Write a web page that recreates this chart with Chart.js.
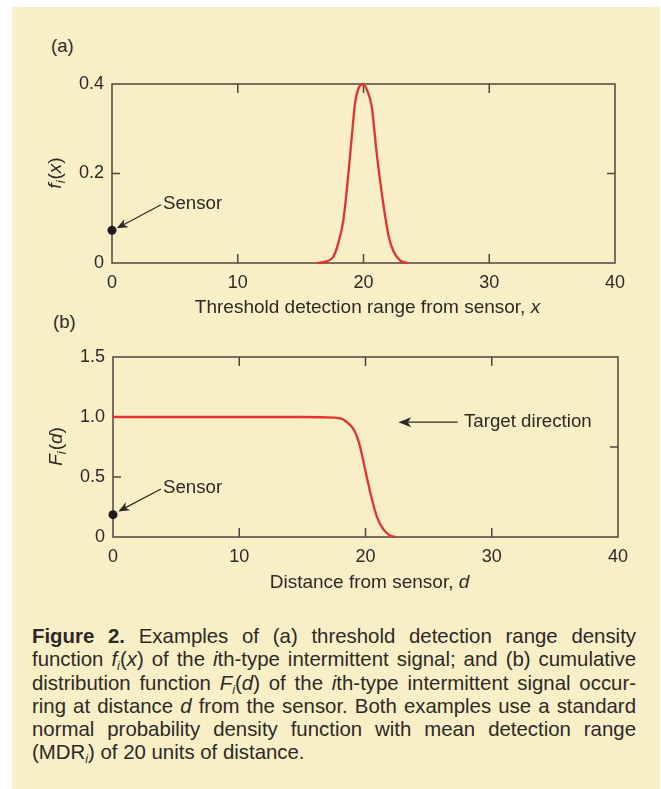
<!DOCTYPE html>
<html>
<head>
<meta charset="utf-8">
<script src="https://cdn.jsdelivr.net/npm/chart.js@4.4.0/dist/chart.umd.min.js"></script>
<style>
  html, body { margin: 0; padding: 0; background: #ffffff; }
  #page { position: relative; width: 661px; height: 789px; overflow: hidden; }
  #panel { position: absolute; left: 12px; top: 7px; width: 648px; height: 782px; background: #f8efc7; }
  canvas { position: absolute; left: 0; }
  #chartA { top: 0; }
  #chartB { top: 320px; }
  .tag { position: absolute; font: 18.5px "Liberation Sans", Arial, sans-serif; color: #2e2925; line-height: 20px; }
  #caption { position: absolute; left: 32px; top: 625px; width: 604px;
    font: 20.4px "Liberation Sans", Arial, sans-serif; line-height: 23.3px; color: #2e2925; }
  #caption div { text-align: justify; text-align-last: justify; white-space: nowrap; }
  #caption div.last { text-align-last: left; }
  #caption sub { font-size: 0.62em; line-height: 0; vertical-align: -0.3em; }
</style>
</head>
<body>
<div id="page">
  <div id="panel"></div>
  <div class="tag" style="left:51px; top:36px;">(a)</div>
  <div class="tag" style="left:53px; top:312px;">(b)</div>
  <canvas id="chartA" width="661" height="320"></canvas>
  <canvas id="chartB" width="661" height="275"></canvas>
  <div id="caption">
    <div><b>Figure 2.</b> Examples of (a) threshold detection range density</div>
    <div>function <i>f</i><sub><i>i</i></sub>(<i>x</i>) of the <i>i</i>th-type intermittent signal; and (b) cumulative</div>
    <div>distribution function <i>F</i><sub><i>i</i></sub>(<i>d</i>) of the <i>i</i>th-type intermittent signal occur-</div>
    <div>ring at distance <i>d</i> from the sensor. Both examples use a standard</div>
    <div>normal probability density function with mean detection range</div>
    <div class="last">(MDR<sub><i>i</i></sub>) of 20 units of distance.</div>
  </div>
</div>
<script>
// tick values / labels
const xTickValues = [0, 10, 20, 30, 40];
const yTickValuesA = [0, 0.2, 0.4];
const yTickLabelsA = ['0', '0.2', '0.4'];
const yTickValuesB = [0, 0.5, 1.0, 1.5];
const yTickLabelsB = ['0', '0.5', '1.0', '1.5'];

// inward tick marks on the frame
const innerXTicks = [10, 20, 30];
const innerLeftA = [0.2];
const innerRightA = [0.2];
const innerLeftB = [0.5, 1.0];
const innerRightB = [0.75];

// (a) density f_i(x)
const densityX = [16.3, 17.0, 17.6, 18.0, 18.4, 18.8, 19.06, 19.32, 19.6, 19.95, 20.3, 20.65, 21.05, 21.57, 22.0, 22.4, 22.9, 23.5];
const densityY = [0, 0.003, 0.014, 0.045, 0.096, 0.2, 0.28, 0.355, 0.39, 0.399, 0.385, 0.35, 0.245, 0.133, 0.06, 0.025, 0.006, 0];

// (b) F_i(d)
const cdfX = [0, 5, 10, 15, 17.5, 18.3, 19.1, 19.5, 20.1, 20.45, 20.9, 21.4, 21.9, 22.4];
const cdfY = [1, 1, 1, 1, 0.995, 0.975, 0.89, 0.78, 0.50, 0.34, 0.17, 0.065, 0.015, 0];

// sensor points and annotation anchors (data units)
const sensorA = [0, 0.073];
const sensorLabelA = [4.05, 0.1325];
const sensorArrowA = [3.9, 0.13, 0.37, 0.0775];
const sensorB = [0, 0.186];
const sensorLabelB = [3.96, 0.408];
const sensorArrowB = [3.8, 0.40, 0.42, 0.213];
const targetArrowB = [27.3, 0.957, 22.6, 0.957];
const targetLabelB = [27.8, 0.957];

const FONT = '"Liberation Sans", Arial, Helvetica, sans-serif';
const INK = '#2e2925';
const AXIS = '#4e463f';
const RED = '#e5322d';

function toPoints(xs, ys) {
    return xs.map((x, i) => ({ x: x, y: ys[i] }));
}

function drawRich(ctx, parts, cx, cy, size) {
    // parts: [text, style]  n = normal, i = italic, s = italic subscript
    const fontFor = (p) => {
        if (p[1] === 's') return 'italic ' + (size * 0.68) + 'px ' + FONT;
        if (p[1] === 'i') return 'italic ' + size + 'px ' + FONT;
        return size + 'px ' + FONT;
    };
    let w = 0;
    parts.forEach(p => { ctx.font = fontFor(p); w += ctx.measureText(p[0]).width; });
    let x = cx - w / 2;
    ctx.textAlign = 'left';
    ctx.textBaseline = 'middle';
    parts.forEach(p => {
        ctx.font = fontFor(p);
        const dy = p[1] === 's' ? size * 0.3 : 0;
        ctx.fillText(p[0], x, cy + dy);
        x += ctx.measureText(p[0]).width + (p[1] === 's' ? 1 : 0);
    });
}

function drawArrow(ctx, x1, y1, x2, y2, len, half) {
    const ang = Math.atan2(y2 - y1, x2 - x1);
    ctx.beginPath();
    ctx.moveTo(x1, y1);
    ctx.lineTo(x2 - Math.cos(ang) * len * 0.7, y2 - Math.sin(ang) * len * 0.7);
    ctx.stroke();
    ctx.save();
    ctx.translate(x2, y2);
    ctx.rotate(ang);
    ctx.beginPath();
    ctx.moveTo(0, 0);
    ctx.lineTo(-len, -half);
    ctx.lineTo(-len * 0.72, 0);
    ctx.lineTo(-len, half);
    ctx.closePath();
    ctx.fill();
    ctx.restore();
}

const framePlugin = {
    id: 'frame',
    beforeDatasetsDraw(chart, args, opts) {
        const { ctx, chartArea: a } = chart;
        const x = chart.scales.x, y = chart.scales.y;
        ctx.save();
        ctx.strokeStyle = AXIS;
        ctx.lineWidth = 1.5;
        ctx.strokeRect(a.left, a.top, a.right - a.left, a.bottom - a.top);
        ctx.beginPath();
        opts.xInner.forEach(v => {
            const px = x.getPixelForValue(v);
            ctx.moveTo(px, a.bottom); ctx.lineTo(px, a.bottom - 9);
            ctx.moveTo(px, a.top); ctx.lineTo(px, a.top + 9);
        });
        opts.left.forEach(v => {
            const py = y.getPixelForValue(v);
            ctx.moveTo(a.left, py); ctx.lineTo(a.left + 8, py);
        });
        opts.right.forEach(v => {
            const py = y.getPixelForValue(v);
            ctx.moveTo(a.right, py); ctx.lineTo(a.right - 8, py);
        });
        ctx.stroke();
        ctx.restore();
    },
    afterDraw(chart, args, opts) {
        const { ctx, chartArea: a } = chart;
        const x = chart.scales.x, y = chart.scales.y;
        ctx.save();
        ctx.fillStyle = INK;
        ctx.strokeStyle = INK;

        // axis titles
        drawRich(ctx, opts.xTitle, (a.left + a.right) / 2 + 4, a.bottom + opts.xTitleGap, 19);
        ctx.save();
        ctx.translate(a.left - 56, (a.top + a.bottom) / 2);
        ctx.rotate(-Math.PI / 2);
        drawRich(ctx, opts.yTitle, 0, 0, 19);
        ctx.restore();

        // annotations
        ctx.lineWidth = 1.2;
        opts.arrows.forEach(ar => {
            drawArrow(ctx, x.getPixelForValue(ar.pts[0]), y.getPixelForValue(ar.pts[1]),
                x.getPixelForValue(ar.pts[2]), y.getPixelForValue(ar.pts[3]), ar.len, ar.half);
        });
        ctx.font = '18.7px ' + FONT;
        ctx.textAlign = 'left';
        ctx.textBaseline = 'middle';
        opts.labels.forEach(lb => {
            ctx.fillText(lb.text, x.getPixelForValue(lb.at[0]), y.getPixelForValue(lb.at[1]));
        });
        ctx.restore();
    }
};

function makeChart(id, cfg) {
    return new Chart(document.getElementById(id).getContext('2d'), {
        type: 'scatter',
        data: {
            datasets: [{
                data: toPoints(cfg.xs, cfg.ys),
                showLine: true,
                borderColor: RED,
                borderWidth: 2.3,
                pointRadius: 0,
                cubicInterpolationMode: 'monotone',
                clip: false
            }, {
                data: [{ x: cfg.sensor[0], y: cfg.sensor[1] }],
                pointRadius: 4.5,
                pointBackgroundColor: '#1f1b18',
                pointBorderColor: '#1f1b18',
                pointBorderWidth: 0,
                clip: false
            }]
        },
        options: {
            responsive: false,
            animation: false,
            devicePixelRatio: 1,
            layout: { padding: cfg.padding },
            plugins: {
                legend: { display: false },
                tooltip: { enabled: false },
                frame: cfg.frame
            },
            scales: {
                x: {
                    type: 'linear',
                    min: 0, max: 40,
                    afterBuildTicks: s => { s.ticks = xTickValues.map(v => ({ value: v })); },
                    afterFit: s => { s.height = cfg.xAxisHeight; },
                    grid: { display: false, drawTicks: false },
                    border: { display: false },
                    ticks: { color: INK, padding: 9, font: { family: FONT, size: 18 }, callback: v => String(v) }
                },
                y: {
                    type: 'linear',
                    min: cfg.yTicks[0], max: cfg.yTicks[cfg.yTicks.length - 1],
                    afterBuildTicks: s => { s.ticks = cfg.yTicks.map(v => ({ value: v })); },
                    afterFit: s => { s.width = cfg.yAxisWidth; },
                    grid: { display: false, drawTicks: false },
                    border: { display: false },
                    ticks: {
                        color: INK, padding: 8, font: { family: FONT, size: 18 },
                        callback: v => cfg.yLabels[cfg.yTicks.indexOf(v)]
                    }
                }
            }
        },
        plugins: [framePlugin]
    });
}

makeChart('chartA', {
    xs: densityX, ys: densityY, sensor: sensorA,
    yTicks: yTickValuesA, yLabels: yTickLabelsA,
    padding: { left: 45, top: 84, right: 46, bottom: 2 },
    yAxisWidth: 67, xAxisHeight: 55,
    frame: {
        xInner: innerXTicks, left: innerLeftA, right: innerRightA,
        xTitle: [['Threshold detection range from sensor, ', 'n'], ['x', 'i']],
        xTitleGap: 45,
        yTitle: [['f', 'i'], ['i', 's'], ['(', 'n'], ['x', 'i'], [')', 'n']],
        arrows: [{ pts: sensorArrowA, len: 11, half: 4.5 }],
        labels: [{ text: 'Sensor', at: sensorLabelA }]
    }
});

makeChart('chartB', {
    xs: cdfX, ys: cdfY, sensor: sensorB,
    yTicks: yTickValuesB, yLabels: yTickLabelsB,
    padding: { left: 46, top: 37, right: 43, bottom: 2 },
    yAxisWidth: 67, xAxisHeight: 56,
    frame: {
        xInner: innerXTicks, left: innerLeftB, right: innerRightB,
        xTitle: [['Distance from sensor, ', 'n'], ['d', 'i']],
        xTitleGap: 46,
        yTitle: [['F', 'i'], ['i', 's'], ['(', 'n'], ['d', 'i'], [')', 'n']],
        arrows: [
            { pts: sensorArrowB, len: 11, half: 4.5 },
            { pts: targetArrowB, len: 13, half: 5 }
        ],
        labels: [
            { text: 'Sensor', at: sensorLabelB },
            { text: 'Target direction', at: targetLabelB }
        ]
    }
});
</script>
</body>
</html>
